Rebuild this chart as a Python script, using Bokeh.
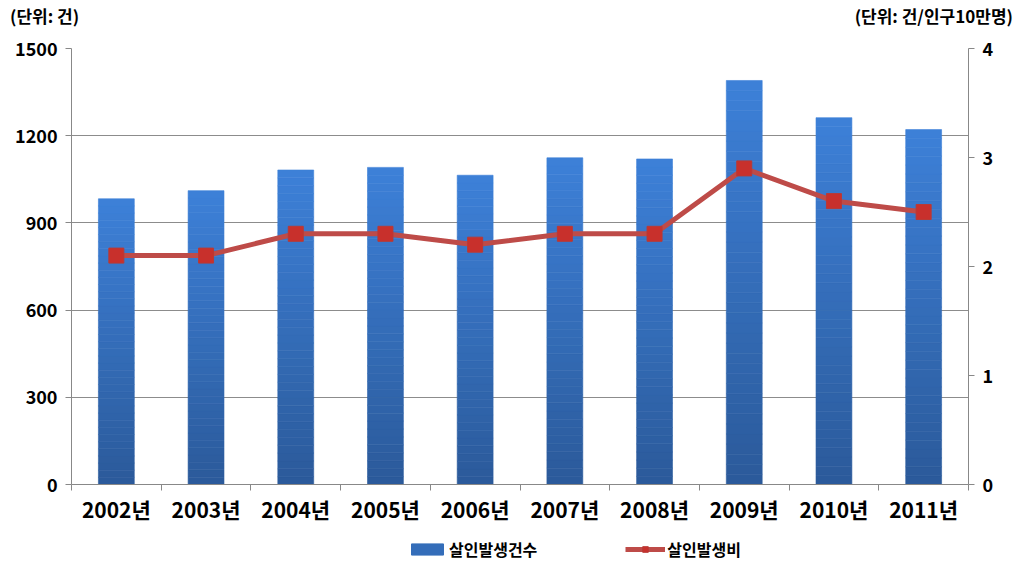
from bokeh.plotting import figure
from bokeh.models import (Range1d, LinearAxis, FixedTicker, Legend, LegendItem, Div)
from bokeh.layouts import column
from bokeh.embed import file_html
from bokeh.resources import INLINE

years = ["2002년", "2003년", "2004년", "2005년", "2006년", "2007년", "2008년", "2009년", "2010년", "2011년"]
cases = [983, 1011, 1082, 1091, 1064, 1124, 1120, 1390, 1262, 1221]
rates = [2.1, 2.1, 2.3, 2.3, 2.2, 2.3, 2.3, 2.9, 2.6, 2.5]
left_ticks = [0, 300, 600, 900, 1200, 1500]
right_ticks = [0, 1, 2, 3, 4]
left_unit = "(단위: 건)"
right_unit = "(단위: 건/인구10만명)"
series_names = ["살인발생건수", "살인발생비"]

FONT = "Noto Sans CJK KR"
BAR_TOP = (0x3d, 0x80, 0xd8)
BAR_BOT = (0x2b, 0x5a, 0x9a)
LINE_C = "#be4b48"
MARK_C = "#c8302c"
xs = list(range(len(years)))

header = Div(
    text=(f'<div style="width:1023px;height:30px;display:flex;justify-content:space-between;'
          f'align-items:center;box-sizing:border-box;padding:0 10px 0 10px;'
          f'font-family:\'{FONT}\';font-weight:bold;font-size:17px;color:black;line-height:1;">'
          f'<span>{left_unit}</span><span>{right_unit}</span></div>'),
    width=1023, height=30, margin=(0, 0, 0, 0))

p = figure(width=1023, height=500, output_backend="svg", toolbar_location=None,
           x_range=Range1d(-0.5, len(years) - 0.5), y_range=Range1d(0, 1500),
           min_border_left=71, min_border_right=55, min_border_top=18, min_border_bottom=46,
           margin=(0, 0, 0, 0))
p.outline_line_color = None
p.background_fill_color = "white"

# gradient bars: slices of each bar, light at top, dark at bottom
N = 40
for i in range(N):
    f0 = i / N
    f1 = (i + 1) / N
    t = (i + 0.5) / N
    col = "#%02x%02x%02x" % tuple(int(round(BAR_BOT[k] + (BAR_TOP[k] - BAR_BOT[k]) * t)) for k in range(3))
    p.vbar(x=xs, width=0.4, bottom=[v * f0 for v in cases], top=[v * f1 for v in cases],
           fill_color=col, line_color=col, line_width=0.6)

# right axis
p.extra_y_ranges = {"rate": Range1d(0, 4)}
p.line(xs, rates, y_range_name="rate", line_color=LINE_C, line_width=5)
p.scatter(xs, rates, y_range_name="rate", marker="square", size=15,
          fill_color=MARK_C, line_color="#b83a36", line_width=1)

# axes styling
p.xaxis.ticker = FixedTicker(ticks=xs, minor_ticks=[x - 0.5 for x in xs] + [len(xs) - 0.5])
p.xaxis.major_label_overrides = {i: y for i, y in enumerate(years)}
p.xaxis.major_tick_out = 0
p.xaxis.major_tick_in = 0
p.xaxis.minor_tick_out = 6
p.xaxis.minor_tick_in = 0
p.xaxis.minor_tick_line_color = "#888888"
p.xaxis.axis_line_color = "#888888"
p.xaxis.major_label_text_font = FONT
p.xaxis.major_label_text_font_style = "bold"
p.xaxis.major_label_text_font_size = "21px"
p.xaxis.major_label_text_color = "black"
p.xaxis.major_label_standoff = 3

p.yaxis.ticker = FixedTicker(ticks=left_ticks)
p.yaxis.minor_tick_line_color = None
p.yaxis.major_tick_out = 6
p.yaxis.major_tick_in = 0
p.yaxis.major_tick_line_color = "#888888"
p.yaxis.axis_line_color = "#888888"
p.yaxis.major_label_text_font = FONT
p.yaxis.major_label_text_font_style = "bold"
p.yaxis.major_label_text_font_size = "18px"
p.yaxis.major_label_text_color = "black"
p.yaxis.major_label_standoff = 8

ax2 = LinearAxis(y_range_name="rate", ticker=FixedTicker(ticks=right_ticks))
ax2.minor_tick_line_color = None
ax2.major_tick_out = 6
ax2.major_tick_in = 0
ax2.major_tick_line_color = "#888888"
ax2.axis_line_color = "#888888"
ax2.major_label_text_font = FONT
ax2.major_label_text_font_style = "bold"
ax2.major_label_text_font_size = "18px"
ax2.major_label_text_color = "black"
ax2.major_label_standoff = 8
p.add_layout(ax2, "right")

p.xgrid.grid_line_color = None
p.ygrid.ticker = FixedTicker(ticks=left_ticks)
p.ygrid.grid_line_color = "#8c8c8c"
p.ygrid.grid_line_width = 1

# legend strip: small figure whose glyphs sit outside its visible range (legend swatches only)
mid = "#%02x%02x%02x" % tuple((BAR_TOP[k] + BAR_BOT[k]) // 2 for k in range(3))
lg = figure(width=1023, height=39, output_backend="svg", toolbar_location=None,
            x_axis_type=None, y_axis_type=None, x_range=Range1d(0, 1), y_range=Range1d(0, 1),
            min_border=0, margin=(0, 0, 0, 0))
lg.outline_line_color = None
lg.xgrid.grid_line_color = None
lg.ygrid.grid_line_color = None
off = [-10.0]
rb = lg.vbar(x=off, top=off, width=0.1, fill_color=mid, line_color=mid)
rl = lg.line(x=off, y=off, line_color=LINE_C, line_width=5)
rm = lg.scatter(x=off, y=off, marker="square", fill_color=MARK_C, line_color="#b83a36")
legend = Legend(items=[LegendItem(label=series_names[0], renderers=[rb]),
                       LegendItem(label=series_names[1], renderers=[rl, rm])],
                orientation="horizontal", location=(336, 8),
                label_text_font=FONT, label_text_font_style="bold", label_text_font_size="16px",
                label_text_color="black", glyph_width=40, glyph_height=14, spacing=88,
                border_line_color=None, background_fill_alpha=0, padding=0, margin=0,
                label_standoff=2)
lg.add_layout(legend, "center")

open("out.html", "w").write(file_html(column(header, p, lg, spacing=0), INLINE))
